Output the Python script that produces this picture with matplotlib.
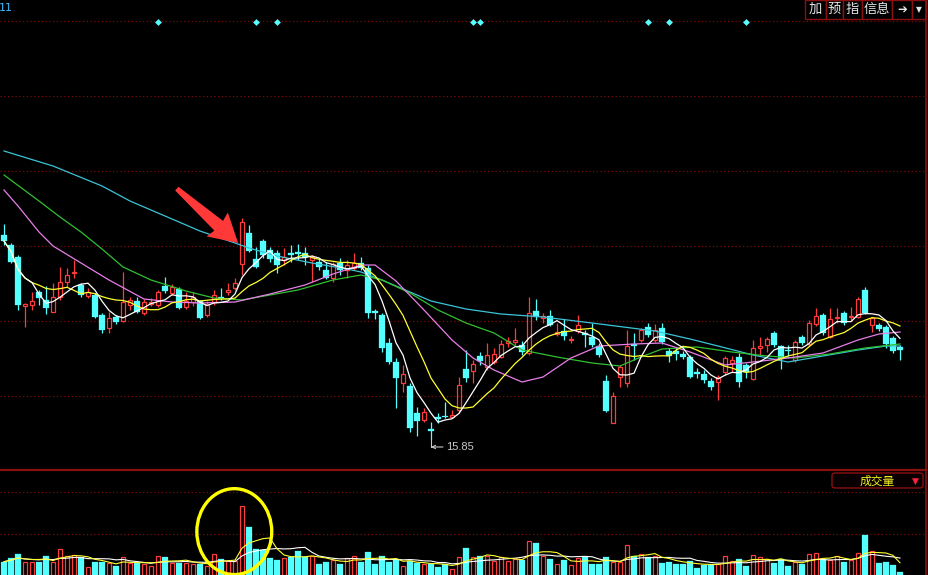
import matplotlib
matplotlib.use('Agg')
import matplotlib.pyplot as plt
import matplotlib.transforms as mtransforms
from matplotlib.patches import Rectangle, Ellipse, FancyBboxPatch, Polygon
from matplotlib.collections import LineCollection
from matplotlib.lines import Line2D
import numpy as np
import pandas as pd

plt.rcParams['font.family'] = ['Noto Sans CJK SC', 'DejaVu Sans']

# ---------------- data ----------------
opens = [19.93, 19.73, 19.49, 18.51, 18.53, 18.79, 18.63, 18.39, 18.69, 18.99,
         19.17, 18.93, 18.71, 18.73, 18.33, 18.07, 18.29, 18.21, 18.53, 18.61,
         18.37, 18.55, 18.53, 18.91, 18.77, 18.85, 18.49, 18.59, 18.61, 18.33,
         18.59, 18.69, 18.79, 18.87, 19.35, 19.97, 19.45, 19.81, 19.63, 19.57,
         19.43, 19.57, 19.59, 19.57, 19.43, 19.39, 19.23, 19.07, 19.37, 19.23,
         19.27, 19.37, 19.27, 18.41, 18.33, 17.77, 17.39, 16.97, 16.91, 16.37,
         16.23, 16.05, 16.29, 16.31, 16.29, 16.43, 17.25, 17.21, 17.51, 17.29,
         17.39, 17.49, 17.77, 17.79, 17.73, 17.57, 18.41, 18.27, 18.31, 17.95,
         18.01, 17.83, 18.01, 17.97, 17.89, 17.71, 17.01, 16.17, 17.09, 16.97,
         17.75, 17.83, 18.09, 17.83, 18.07, 17.61, 17.61, 17.55, 17.49, 17.19,
         17.15, 17.01, 16.99, 17.19, 17.37, 17.49, 17.33, 17.05, 17.67, 17.73,
         17.97, 17.71, 17.63, 17.43, 17.89, 17.75, 18.15, 18.33, 17.89, 18.27,
         18.37, 18.29, 18.29, 18.83, 18.13, 18.13, 18.09, 17.87, 17.69]
closes = [19.81, 19.39, 18.53, 18.55, 18.61, 18.67, 18.47, 18.69, 18.99, 19.13,
          19.19, 18.73, 18.79, 18.29, 18.03, 18.27, 18.19, 18.59, 18.63, 18.39,
          18.59, 18.59, 18.79, 18.81, 18.89, 18.47, 18.61, 18.69, 18.27, 18.55,
          18.73, 18.67, 18.83, 18.97, 20.19, 19.61, 19.29, 19.53, 19.45, 19.33,
          19.49, 19.53, 19.55, 19.49, 19.49, 19.29, 19.07, 19.35, 19.23, 19.33,
          19.37, 19.27, 18.37, 18.37, 17.67, 17.39, 17.07, 17.15, 16.07, 16.21,
          16.39, 16.01, 16.25, 16.29, 16.33, 16.93, 17.07, 17.35, 17.41, 17.53,
          17.55, 17.75, 17.81, 17.83, 17.59, 18.37, 18.29, 18.31, 18.13, 17.99,
          17.91, 17.85, 18.13, 17.93, 17.73, 17.53, 16.41, 16.71, 17.29, 17.71,
          17.71, 18.03, 17.93, 18.03, 17.79, 17.51, 17.55, 17.49, 17.09, 17.15,
          17.03, 16.89, 17.09, 17.47, 17.43, 16.99, 17.19, 17.67, 17.71, 17.85,
          17.73, 17.45, 17.61, 17.79, 17.77, 18.17, 18.31, 17.97, 18.25, 18.29,
          18.17, 18.31, 18.65, 18.37, 18.27, 18.05, 17.75, 17.61, 17.63]
highs = [20.15, 19.77, 19.53, 18.57, 18.79, 18.83, 18.91, 18.97, 19.29, 19.27,
         19.43, 18.97, 18.87, 18.77, 18.37, 18.39, 18.33, 19.19, 18.69, 18.69,
         18.65, 18.67, 18.83, 19.09, 18.95, 18.89, 18.79, 18.79, 18.63, 18.61,
         18.83, 18.87, 18.97, 19.07, 20.27, 20.13, 19.69, 19.85, 19.69, 19.63,
         19.67, 19.73, 19.75, 19.69, 19.53, 19.47, 19.39, 19.39, 19.47, 19.43,
         19.57, 19.49, 19.33, 18.45, 18.37, 17.87, 17.47, 17.33, 16.97, 16.49,
         16.47, 16.19, 16.37, 16.59, 16.43, 17.09, 17.63, 17.43, 17.59, 17.77,
         17.67, 17.83, 17.89, 18.07, 17.81, 18.69, 18.65, 18.37, 18.43, 18.17,
         18.25, 17.91, 18.33, 18.03, 18.17, 17.77, 17.13, 16.79, 17.33, 18.03,
         17.97, 18.07, 18.17, 18.15, 18.17, 17.67, 17.69, 17.61, 17.53, 17.27,
         17.23, 17.07, 17.13, 17.51, 17.51, 17.57, 17.37, 17.83, 17.89, 17.89,
         18.01, 17.73, 17.73, 17.83, 17.93, 18.23, 18.47, 18.37, 18.47, 18.47,
         18.41, 18.49, 18.69, 18.89, 18.29, 18.17, 18.13, 17.91, 17.73]
lows = [19.73, 19.37, 18.43, 18.09, 18.43, 18.53, 18.35, 18.39, 18.63, 18.89,
        19.07, 18.69, 18.67, 18.27, 17.97, 17.97, 18.15, 18.19, 18.43, 18.37,
        18.33, 18.51, 18.49, 18.77, 18.73, 18.45, 18.45, 18.51, 18.25, 18.29,
        18.53, 18.63, 18.73, 18.83, 19.13, 19.59, 19.27, 19.47, 19.39, 19.17,
        19.33, 19.39, 19.43, 19.33, 18.99, 19.23, 19.05, 18.99, 19.13, 19.07,
        19.23, 19.23, 18.27, 18.25, 17.59, 17.35, 16.47, 16.79, 15.99, 15.91,
        16.19, 15.85, 16.17, 16.27, 16.27, 16.37, 16.99, 16.97, 17.33, 17.23,
        17.35, 17.47, 17.69, 17.73, 17.53, 17.53, 18.23, 18.17, 18.11, 17.91,
        17.83, 17.77, 17.97, 17.69, 17.69, 17.49, 16.39, 16.17, 16.89, 16.89,
        17.43, 17.79, 17.89, 17.79, 17.75, 17.39, 17.43, 17.45, 17.07, 17.07,
        16.97, 16.83, 16.63, 17.13, 17.19, 16.89, 17.07, 17.03, 17.53, 17.59,
        17.69, 17.25, 17.51, 17.39, 17.73, 17.71, 18.11, 17.93, 17.87, 18.17,
        18.13, 18.23, 18.27, 18.35, 17.99, 18.01, 17.67, 17.57, 17.43]
volumes = [3.2, 4.0, 5.1, 3.2, 3.2, 3.2, 4.6, 3.2, 6.2, 4.6,
           4.8, 4.3, 2.0, 3.2, 3.2, 2.8, 2.2, 4.3, 2.8, 2.8,
           2.7, 2.2, 4.6, 4.3, 3.0, 3.0, 3.0, 2.7, 2.7, 2.2,
           5.1, 3.8, 3.4, 3.4, 16.6, 11.5, 6.3, 6.0, 4.2, 3.6,
           4.0, 4.3, 5.8, 4.3, 4.6, 2.7, 3.2, 3.6, 2.7, 4.0,
           4.6, 3.2, 5.5, 2.7, 4.6, 3.2, 3.8, 2.2, 3.4, 2.8,
           2.7, 2.7, 2.0, 2.7, 1.4, 4.3, 6.4, 4.3, 4.6, 4.6,
           3.4, 4.3, 3.4, 3.8, 3.6, 8.2, 7.8, 4.6, 3.8, 2.6,
           3.6, 2.4, 4.0, 4.3, 2.7, 2.7, 4.3, 3.2, 3.2, 7.2,
           4.6, 5.1, 4.3, 4.6, 2.8, 3.1, 2.7, 2.7, 3.4, 1.8,
           2.4, 2.4, 2.7, 4.6, 3.4, 3.8, 2.2, 4.7, 4.4, 3.8,
           2.8, 3.8, 2.2, 3.2, 2.7, 5.1, 5.2, 3.8, 3.6, 4.6,
           3.1, 3.6, 5.2, 9.6, 5.8, 2.8, 3.1, 2.3, 0.7]

ma20_idx = [0, 2, 5, 7, 11, 15, 20, 24, 28, 33, 38, 43, 47, 51, 53, 56, 60, 64, 67,
            70, 74, 77, 81, 85, 90, 94, 98, 103, 107, 112, 117, 122, 125, 128]
ma20_val = [20.83, 20.51, 19.99, 19.71, 19.37, 19.03, 18.65, 18.59, 18.57, 18.59,
            18.75, 18.93, 19.15, 19.33, 19.33, 19.01, 18.43, 17.83, 17.47, 17.23,
            16.99, 17.09, 17.47, 17.71, 17.75, 17.77, 17.59, 17.33, 17.39, 17.47,
            17.57, 17.83, 17.95, 17.99]
ma30_idx = [0, 5, 8, 11, 14, 17, 21, 26, 30, 34, 38, 42, 47, 51, 54, 58, 62, 66,
            70, 74, 79, 84, 88, 91, 94, 99, 104, 109, 113, 118, 123, 128]
ma30_val = [21.13, 20.61, 20.29, 19.99, 19.65, 19.29, 19.03, 18.81, 18.67, 18.63,
            18.73, 18.83, 19.03, 19.13, 19.03, 18.77, 18.43, 18.17, 17.97, 17.63,
            17.49, 17.37, 17.31, 17.49, 17.65, 17.69, 17.59, 17.51, 17.47, 17.55,
            17.67, 17.75]
ma60_idx = [0, 7, 14, 18, 22, 28, 33, 35, 39, 44, 49, 51, 54, 57, 61, 66, 71, 77,
            84, 93, 98, 102, 107, 112, 117, 122, 126, 128]
ma60_val = [21.61, 21.31, 20.91, 20.61, 20.37, 20.01, 19.77, 19.67, 19.51, 19.37,
            19.25, 19.19, 19.03, 18.85, 18.61, 18.45, 18.35, 18.29, 18.17, 18.01,
            17.85, 17.71, 17.53, 17.39, 17.51, 17.63, 17.71, 17.71]

signal_idx = [22, 36, 39, 67, 68, 92, 95, 106]
buttons = ['加', '预', '指', '信息', '➔', '▼']
vol_title = '成交量'
corner_text = '11'

# ---------------- layout ----------------
W, H = 929, 575
RED = '#ff3c3c'
CYAN = '#54ffff'
GRID = '#7a0a0a'
BORDER = '#8b1010'

fig = plt.figure(figsize=(W / 100, H / 100), dpi=100, facecolor='black')


def px_rect(x0, y0, x1, y1):
    return [x0 / W, 1 - y1 / H, (x1 - x0) / W, (y1 - y0) / H]


ax = fig.add_axes(px_rect(0, 0, 926, 468))
axv = fig.add_axes(px_rect(0, 471, 926, 575))
for a in (ax, axv):
    a.set_facecolor('black')
    for s in a.spines.values():
        s.set_visible(False)
    a.set_xticks([])
    a.set_yticks([])
    a.set_xlim(-4 / 7, 922 / 7)
ax.set_ylim(15.27, 24.63)
axv.set_ylim(0, 104 / 4.15)

n = len(closes)
xs = np.arange(n)

# grid lines
for k in range(6):
    ax.axhline(16.71 + 1.5 * k, color=GRID, lw=0.9, ls=(0, (1, 2)), zorder=0)
for g in (10, 20):
    axv.axhline(g, color=GRID, lw=0.9, ls=(0, (1, 2)), zorder=0)

# candles
red_segs, cyan_segs = [], []
for i, (o, c, h, l) in enumerate(zip(opens, closes, highs, lows)):
    if c > o:
        ax.add_patch(Rectangle((i - 0.31, o), 0.62, c - o, fill=False,
                               edgecolor=RED, lw=0.9, zorder=2))
        red_segs += [[(i, c), (i, h)], [(i, l), (i, o)]]
    else:
        hgt = max(o - c, 0.018)
        ax.add_patch(Rectangle((i - 0.36, c), 0.72, hgt, facecolor=CYAN,
                               edgecolor=CYAN, lw=0.2, zorder=2))
        cyan_segs.append([(i, l), (i, h)])
ax.add_collection(LineCollection(red_segs, colors=RED, lw=0.9, zorder=2))
ax.add_collection(LineCollection(cyan_segs, colors=CYAN, lw=0.9, zorder=2))

# moving averages
cs = pd.Series(closes)
ma5 = cs.rolling(5, min_periods=1).mean()
ma10 = cs.rolling(10, min_periods=1).mean()
ax.plot(ma60_idx, ma60_val, color='#3cc4d8', lw=0.9, zorder=3)
ax.plot(ma30_idx, ma30_val, color='#30c030', lw=0.9, zorder=3)
ax.plot(ma20_idx, ma20_val, color='#e87ee8', lw=0.9, zorder=3)
ax.plot(xs, ma10, color='#ffff30', lw=0.9, zorder=3)
ax.plot(xs, ma5, color='#ffffff', lw=0.9, zorder=3)

# signal diamonds
btrans = mtransforms.blended_transform_factory(ax.transData, ax.transAxes)
ax.scatter(signal_idx, [1 - 22 / 468] * len(signal_idx), transform=btrans,
           marker='D', s=12, color=CYAN, zorder=4, clip_on=False, linewidths=0)

# lowest price label
imin = int(np.argmin(lows))
lo = lows[imin]
ylab = lo - 0.16
ax.plot([imin, imin], [lo, ylab], color='#c8c8c8', lw=0.8, zorder=4)
ax.annotate('', xy=(imin, ylab), xytext=(imin + 1.7, ylab),
            arrowprops=dict(arrowstyle='->', color='#c8c8c8', lw=0.8,
                            mutation_scale=6, shrinkA=0, shrinkB=0), zorder=4)
ax.text(imin + 2.1, ylab, f'{lo:.2f}', color='#c8c8c8', fontsize=8,
        family=['Liberation Sans', 'DejaVu Sans'], va='center', ha='left', zorder=4)

# volume bars
for i, (o, c, v) in enumerate(zip(opens, closes, volumes)):
    if c > o:
        axv.add_patch(Rectangle((i - 0.31, 0), 0.62, v, fill=False,
                                edgecolor=RED, lw=0.9, zorder=2))
    else:
        axv.add_patch(Rectangle((i - 0.36, 0), 0.72, v, facecolor=CYAN,
                                edgecolor=CYAN, lw=0.2, zorder=2))
vs = pd.Series(volumes)
axv.plot(xs, vs.rolling(10, min_periods=1).mean(), color='#ffffff', lw=0.8, zorder=3)
axv.plot(xs, vs.rolling(5, min_periods=1).mean(), color='#ffff30', lw=0.8, zorder=3)

# highlight: circle around the volume spike
spike = int(np.argmax(volumes))
axv.add_patch(Ellipse((spike - 1.1, volumes[spike] * 0.63), 10.7, 20.7,
                      fill=False, edgecolor='#ffff00', lw=2.4, zorder=5,
                      clip_on=False))

# volume title box
fig.add_artist(FancyBboxPatch((832 / W, 1 - 488 / H), 91 / W, 15 / H,
                              boxstyle='round,pad=0,rounding_size=0.004',
                              transform=fig.transFigure, facecolor='#080000',
                              edgecolor=BORDER, lw=1))
fig.text(877 / W, 1 - 481 / H, vol_title, color='#f0f020', fontsize=8.5,
         ha='center', va='center')
fig.text(915 / W, 1 - 481 / H, '▼', color='#ff2040', fontsize=6.5,
         ha='center', va='center', family=['DejaVu Sans'])

# panel borders
fig.add_artist(Line2D([0, 926 / W], [1 - 469.5 / H] * 2, color=BORDER, lw=1.6,
                      transform=fig.transFigure))
fig.add_artist(Line2D([926.5 / W] * 2, [0, 1], color=BORDER, lw=1.2,
                      transform=fig.transFigure))

# top-right buttons
edges = [805, 826, 843, 862, 892, 912, 926]
for lab, x0, x1 in zip(buttons, edges[:-1], edges[1:]):
    fig.add_artist(Rectangle((x0 / W, 1 - 19 / H), (x1 - x0) / W, 19 / H,
                             transform=fig.transFigure, facecolor='black',
                             edgecolor=BORDER, lw=1))
    fs = 9.5 if lab not in ('➔', '▼') else 8.5
    if lab == '▼':
        fs = 5.5
    fig.text((x0 + x1) / 2 / W, 1 - 9.5 / H, lab, color='#e8e8e8', fontsize=fs,
             ha='center', va='center', fontweight='bold' if lab == '➔' else 'normal',
             family=['DejaVu Sans'] if lab in ('➔', '▼') else None)

fig.text(-1 / W, 1 - 8 / H, corner_text, color='#3fb8ff', fontsize=8,
         ha='left', va='center', family=['DejaVu Sans'])

# red arrow pointing to the breakout candle
fig.canvas.draw()
tip = ax.transData.transform((spike - 0.55, (opens[spike] + closes[spike]) / 2))
u = np.array([0.748, -0.663])
nrm = np.array([0.663, 0.748])
pts = [tip,
       tip - 28 * u + 16 * nrm,
       tip - 26 * u + 6.5 * nrm,
       tip - 82 * u + 2.5 * nrm,
       tip - 82 * u - 2.5 * nrm,
       tip - 26 * u - 6.5 * nrm,
       tip - 28 * u - 16 * nrm]
fig.add_artist(Polygon(pts, closed=True, facecolor='#ff3838', edgecolor='none',
                       transform=mtransforms.IdentityTransform(), zorder=6))

fig.savefig('out.png', dpi=100, facecolor='black')
